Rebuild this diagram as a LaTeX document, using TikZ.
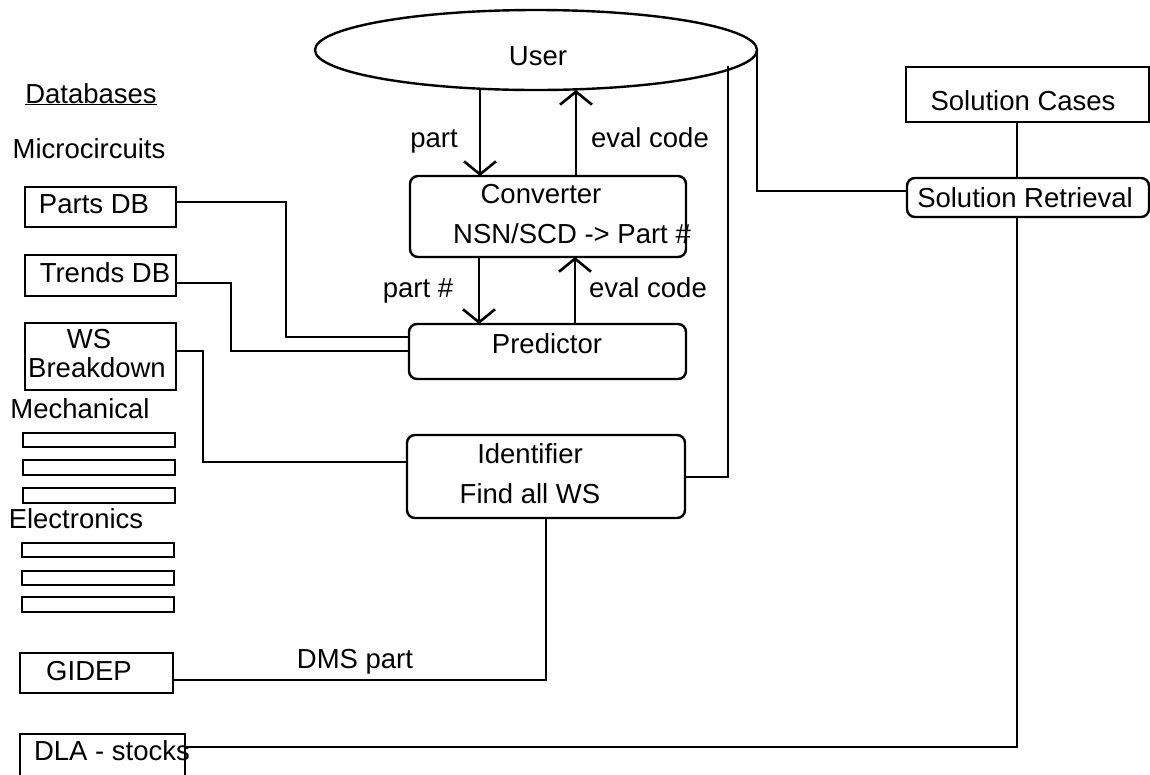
\documentclass[tikz,border=0pt]{standalone}
\usepackage{fontspec}
\setmainfont{Liberation Sans}
\usetikzlibrary{arrows.meta,shapes.geometric}
\begin{document}
\begin{tikzpicture}[x=1pt,y=-1pt,
  every node/.style={font=\fontsize{27.5pt}{32pt}\selectfont, inner sep=0pt, outer sep=0pt},
  ln/.style={line width=2.4pt},
  sbox/.style={draw, line width=2.4pt},
  rbox/.style={draw, line width=2.4pt, rounded corners=8pt},
  lbl/.style={anchor=base},
  arr/.style={line width=2.6pt, -{Straight Barb[length=13pt,width=32pt,line width=2.6pt]}}]
\useasboundingbox (0,0) rectangle (1150,774);

% user ellipse
\node[draw, ellipse, line width=2.4pt, minimum width=442pt, minimum height=80pt] (user) at (536,50) {};
\node[lbl] (usert) at (538,65) {User};

% left column
\node[lbl] (dbt) at (91,103) {\underline{Databases}};
\node[lbl] (mct) at (89,158) {Microcircuits};
\node[sbox, minimum width=151pt, minimum height=40pt] (parts) at (100.5,207) {};
\node[lbl] at (94,213) {Parts DB};
\node[sbox, minimum width=151pt, minimum height=41pt] (trends) at (100.5,275.5) {};
\node[lbl] at (105,282) {Trends DB};
\node[sbox, minimum width=151pt, minimum height=67pt] (ws) at (100.5,356.5) {};
\node[lbl] at (89,348) {WS};
\node[lbl] at (97,377) {Breakdown};
\node[lbl] (mech) at (80,418) {Mechanical};
\node[sbox, minimum width=152pt, minimum height=14pt] (m1) at (99,440) {};
\node[sbox, minimum width=152pt, minimum height=15pt] (m2) at (99,467.5) {};
\node[sbox, minimum width=152pt, minimum height=15pt] (m3) at (99,495.5) {};
\node[lbl] (elec) at (76,528) {Electronics};
\node[sbox, minimum width=152pt, minimum height=14pt] (e1) at (98,550) {};
\node[sbox, minimum width=152pt, minimum height=14pt] (e2) at (98,578) {};
\node[sbox, minimum width=152pt, minimum height=15pt] (e3) at (98,604.5) {};
\node[sbox, minimum width=153pt, minimum height=40pt] (gidep) at (96.5,673) {};
\node[lbl] at (89,680) {GIDEP};
\node[sbox, minimum width=165pt, minimum height=50pt] (dla) at (102.5,759) {};

% centre column
\node[rbox, minimum width=276pt, minimum height=81pt] (conv) at (548,216.5) {};
\node[lbl] at (541,203) {Converter};
\node[lbl] at (572,243) {NSN/SCD -> Part \#};
\node[rbox, minimum width=277pt, minimum height=55pt] (pred) at (547.5,351.5) {};
\node[lbl] at (547,353) {Predictor};
\node[rbox, minimum width=278pt, minimum height=83pt] (ident) at (546,476.5) {};
\node[lbl] at (530,463) {Identifier};
\node[lbl] at (530,503) {Find all WS};

% right column
\node[sbox, minimum width=243pt, minimum height=55pt] (sc) at (1027.5,94.5) {};
\node[lbl] at (1023,110) {Solution Cases};
\node[rbox, minimum width=242pt, minimum height=39pt] (sr) at (1028,197.5) {};
\node[lbl] at (1025,207) {Solution Retrieval};

% text over the DLA line
\node[lbl] at (112,760) {DLA - stocks};

% arrow labels
\node[lbl] at (434,147) {part};
\node[lbl] at (650,147) {eval code};
\node[lbl] at (418,297) {part \#};
\node[lbl] at (648,297) {eval code};
\node[lbl] at (355,668) {DMS part};

% connectors
\coordinate (ua) at (480,89);
\coordinate (ub) at (576,90);
\coordinate (utap) at (728,66);
\draw[arr] (ua) -- (conv.north -| ua);
\draw[arr] (conv.north -| ub) -- (ub);
\draw[arr] (conv.south -| 479,0) -- (pred.north -| 479,0);
\draw[arr] (pred.north -| 575,0) -- (conv.south -| 575,0);

\draw[ln] (parts.east |- 0,202) -| (286,337) -- (pred.west |- 0,337);
\draw[ln] (trends.east |- 0,283) -| (231,351) -- (pred.west |- 0,351);
\draw[ln] (ws.east |- 0,351) -| (203,462) -- (ident.west |- 0,462);
\draw[ln] (gidep.east |- 0,680) -| (ident.south);
\draw[ln] (dla.east |- 0,747) -| (sr.south -| 1017,0);
\draw[ln] (sc.south -| 1017,0) -- (sr.north -| 1017,0);
\draw[ln] (user.east) -- (user.east |- 0,191) -- (sr.west |- 0,191);
\draw[ln] (utap) -- (728,477) -- (ident.east |- 0,477);
\end{tikzpicture}
\end{document}
